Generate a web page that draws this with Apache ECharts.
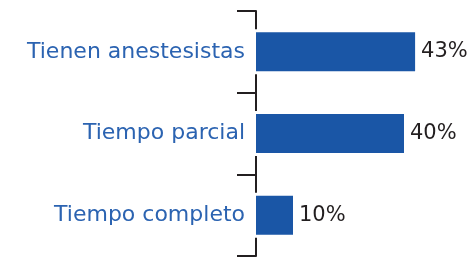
<!DOCTYPE html>
<html>
<head>
<meta charset="utf-8">
<script src="https://cdn.jsdelivr.net/npm/echarts@6/dist/echarts.min.js"></script>
<style>
  html, body { margin: 0; padding: 0; background: #fff; }
  #main { width: 470px; height: 258px; }
</style>
</head>
<body>
<div id="main"></div>
<script>
// categorias y valores (%)
var categorias = ['Tienen anestesistas', 'Tiempo parcial', 'Tiempo completo'];
var valores = [43, 40, 10];

var chart = echarts.init(document.getElementById('main'));

var option = {
    animation: false,
    grid: [
        { left: 256, right: 29, top: 11, bottom: 2 },
        // segunda rejilla: franjas blancas que cortan la linea del eje
        { left: 251, right: 29, top: 11, bottom: 2 }
    ],
    xAxis: [
        { type: 'value', gridIndex: 0, min: 0, max: 50, show: false },
        { type: 'value', gridIndex: 1, min: 0, max: 50, show: false }
    ],
    yAxis: [
        {
            type: 'category',
            gridIndex: 0,
            data: categorias,
            inverse: true,
            axisLine: { show: true, lineStyle: { color: '#231f20', width: 2 } },
            axisTick: { show: true, length: 19, lineStyle: { color: '#231f20', width: 2 } },
            axisLabel: {
                margin: 11,
                color: '#2b63b1',
                fontSize: 22,
                fontFamily: 'DejaVu Sans'
            }
        },
        { type: 'category', gridIndex: 1, data: categorias, inverse: true, show: false }
    ],
    series: [
        {
            type: 'bar',
            xAxisIndex: 1,
            yAxisIndex: 1,
            data: valores,
            barWidth: 45,
            silent: true,
            itemStyle: { color: '#ffffff' }
        },
        {
            type: 'bar',
            xAxisIndex: 0,
            yAxisIndex: 0,
            data: valores,
            barWidth: 39,
            itemStyle: { color: '#1a56a6' },
            label: {
                show: true,
                position: 'right',
                distance: 6,
                formatter: '{c}%',
                color: '#231f20',
                fontSize: 21,
                fontFamily: 'DejaVu Sans'
            }
        }
    ]
};

chart.setOption(option);
</script>
</body>
</html>
